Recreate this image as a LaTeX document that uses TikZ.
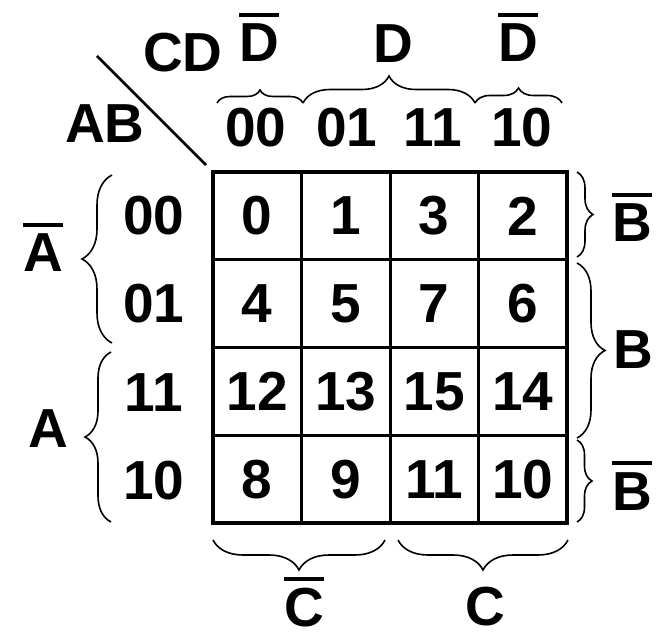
\documentclass[tikz,border=0pt]{standalone}
\usepackage{fontspec}
\setmainfont{Liberation Sans}
\usetikzlibrary{decorations.pathreplacing}
\newcommand\ovl[1]{\vbox{\hrule height 3.8pt\kern 7pt\hbox{#1}}}
\begin{document}
\begin{tikzpicture}[x=1pt,y=-1pt,
  lab/.style={font=\fontsize{55}{60}\selectfont\bfseries, inner sep=0pt, anchor=base},
  cell/.style={draw, line width=3pt, minimum width=88.5pt, minimum height=87.75pt,
    inner sep=0pt, outer sep=0pt, font=\fontsize{55}{60}\selectfont\bfseries, anchor=center},
  br/.style={decorate, decoration={brace, amplitude=#1}, line width=1.6pt}]
\useasboundingbox (0,0) rectangle (672,636);
% cells
\foreach \v [count=\k from 0] in {0,1,3,2,4,5,7,6,12,13,15,14,8,9,11,10}{
  \pgfmathtruncatemacro{\cc}{mod(\k,4)}
  \pgfmathtruncatemacro{\rr}{div(\k,4)}
  \node[cell] (c\k) at ({213+88.5*(\cc+0.5)},{172+87.75*(\rr+0.5)}) {\v};
}
\draw[line width=4.5pt] (c0.north west) rectangle (c15.south east);
% row labels
\node[lab] (r0) at (154,235) {00};
\node[lab] (r1) at (154,323) {01};
\node[lab] (r2) at (154,411) {11};
\node[lab] (r3) at (154,499) {10};
% column labels
\node[lab] (k0) at (256,147) {00};
\node[lab] (k1) at (347,147) {01};
\node[lab] (k2) at (433,147) {11};
\node[lab] (k3) at (522,147) {10};
% corner
\node[lab] (cd) at (183,72) {CD};
\node[lab] (ab) at (105,143) {AB};
\coordinate (d1) at (97,56);
\coordinate (d2) at (206,165);
\draw[line width=2.8pt] (d1) -- (d2);
% top variable labels
\node[lab] (nd1) at (259,62) {\ovl{D}};
\node[lab] (dd) at (393,63) {D};
\node[lab] (nd2) at (518,62) {\ovl{D}};
\draw[br=13] (217,103) -- (303,103);
\draw[br=27] (303,103) -- (475,103);
\draw[br=15] (475,103) -- (562,103);
% left
\node[lab] (na) at (43,272) {\ovl{A}};
\node[lab] (aa) at (48,447) {A};
\draw[br=30] (112,343) -- (112,175);
\draw[br=26] (111,522) -- (111,352);
% right
\node[lab] (nb1) at (632,242) {\ovl{B}};
\node[lab] (bb) at (633,368) {B};
\node[lab] (nb2) at (632,510) {\ovl{B}};
\draw[br=16] (577,172) -- (577,257);
\draw[br=28] (577,263) -- (577,438);
\draw[br=15] (577,440) -- (577,522);
% bottom
\node[lab] (nc) at (304,626) {\ovl{C}};
\node[lab] (cc) at (485,625) {C};
\draw[br=30] (385,540) -- (213,540);
\draw[br=30] (568,540) -- (398,540);
\end{tikzpicture}
\end{document}
